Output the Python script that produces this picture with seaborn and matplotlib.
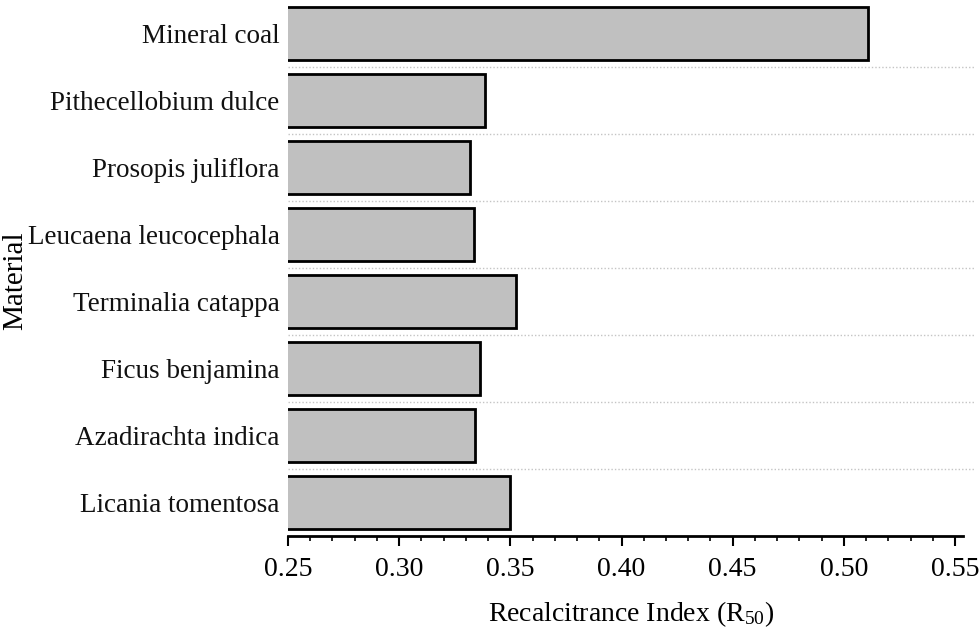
import matplotlib
matplotlib.use("Agg")
import matplotlib.pyplot as plt
import seaborn as sns
import pandas as pd
from matplotlib.ticker import MultipleLocator

materials = ["Mineral coal", "Pithecellobium dulce", "Prosopis juliflora",
             "Leucaena leucocephala", "Terminalia catappa", "Ficus benjamina",
             "Azadirachta indica", "Licania tomentosa"]
r50 = [0.511, 0.3385, 0.332, 0.3335, 0.3525, 0.3365, 0.334, 0.350]
xticks = [0.25, 0.30, 0.35, 0.40, 0.45, 0.50, 0.55]

sns.set_theme(style="white")
plt.rcParams['font.family'] = ['Liberation Serif', 'DejaVu Serif']
plt.rcParams['mathtext.fontset'] = 'custom'
plt.rcParams['mathtext.rm'] = 'Liberation Serif'
plt.rcParams['mathtext.it'] = 'Liberation Serif'

df = pd.DataFrame({"Material": materials, "R50": r50})

fig = plt.figure(figsize=(9.8, 6.41), dpi=100)
ax_w = 975 - 288
ax = fig.add_axes([288/980, 1 - 536/641, ax_w/980, 536/641])

sns.barplot(data=df, x="R50", y="Material", orient="h", color="#c0c0c0",
            edgecolor="black", linewidth=2, width=0.8, ax=ax, saturation=1)

x_end = 0.25 + ax_w / ((955 - 288) / 0.30)
ax.set_xlim(0.25, x_end)
ax.set_ylim(len(materials) - 0.5, -0.5)

for i in range(len(materials) - 1):
    ax.axhline(i + 0.5, color="#c4c4c4", linestyle=(0, (1, 1.5)), linewidth=1, zorder=0)

for s in ["top", "right", "left"]:
    ax.spines[s].set_visible(False)
ax.spines["bottom"].set_linewidth(2)
ax.spines["bottom"].set_color("black")
ax.spines["bottom"].set_bounds(0.25, 0.5535)

ax.set_xticks(xticks)
ax.set_xticklabels([f"{t:.2f}" for t in xticks])
ax.xaxis.set_minor_locator(MultipleLocator(0.01))
ax.tick_params(axis="x", which="major", direction="out", length=7.2, width=1.5,
               colors="black", labelsize=20, bottom=True, pad=8)
ax.tick_params(axis="x", which="minor", direction="out", length=3.6, width=1.2,
               colors="black", bottom=True)
ax.tick_params(axis="y", length=0, labelsize=19.5, pad=6, colors="black")
for lab in ax.get_yticklabels():
    lab.set_color("#111111")

ax.set_xlabel(r"Recalcitrance Index (R$_{50}$)", fontsize=20, labelpad=12, color="black")
ax.set_ylabel("Material", fontsize=21, color="black")
ax.yaxis.set_label_coords((15 - 288) / ax_w, 1 - 281 / 536)
ax.yaxis.label.set_verticalalignment("center")

fig.savefig("out.png", dpi=100)
